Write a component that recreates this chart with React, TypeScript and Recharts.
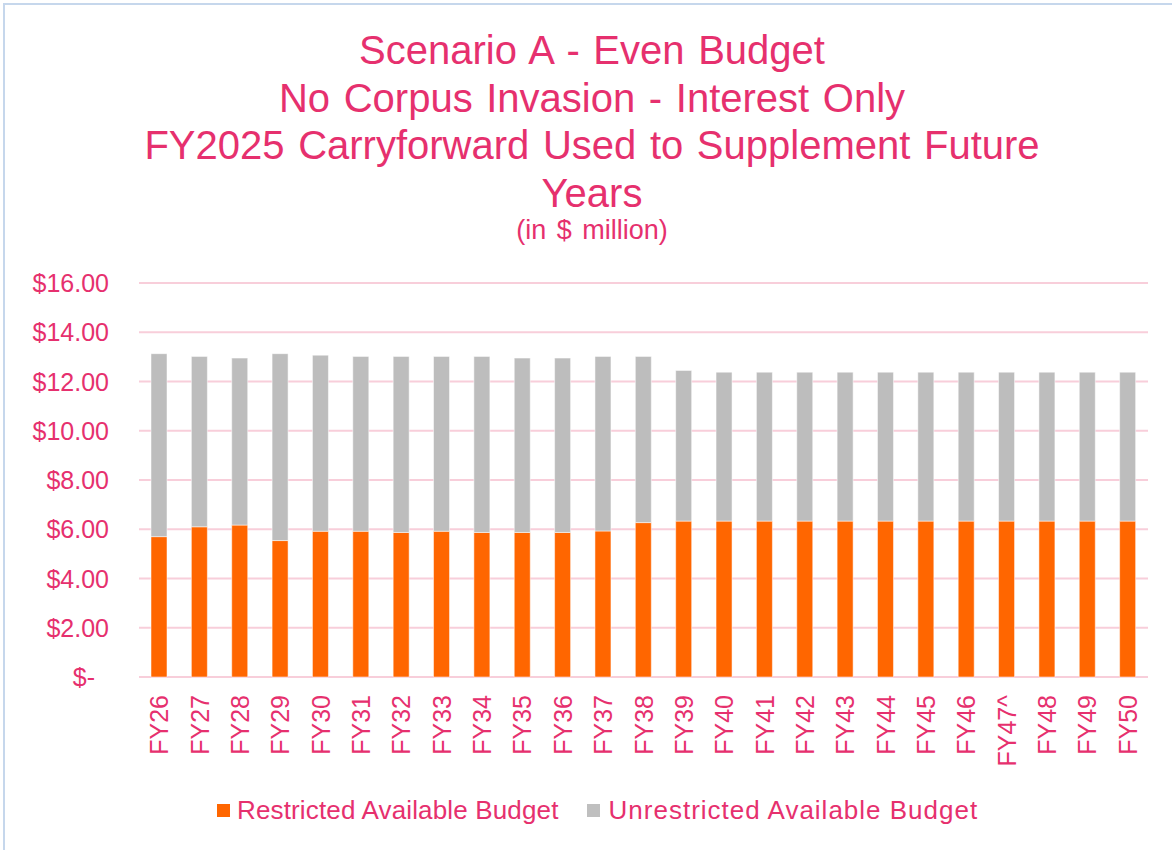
import { BarChart, Bar, XAxis, YAxis, CartesianGrid, Legend } from 'recharts';

const PINK = '#E6306E';
const FONT = '"Liberation Sans", Arial, sans-serif';

const YEARS = [
  'FY26', 'FY27', 'FY28', 'FY29', 'FY30', 'FY31', 'FY32', 'FY33', 'FY34', 'FY35',
  'FY36', 'FY37', 'FY38', 'FY39', 'FY40', 'FY41', 'FY42', 'FY43', 'FY44', 'FY45',
  'FY46', 'FY47^', 'FY48', 'FY49', 'FY50',
];

const RESTRICTED = [
  5.7, 6.1, 6.17, 5.54, 5.92, 5.92, 5.87, 5.92, 5.87, 5.87,
  5.87, 5.93, 6.27, 6.33, 6.33, 6.33, 6.33, 6.33, 6.33, 6.33,
  6.33, 6.33, 6.33, 6.33, 6.33,
];

const UNRESTRICTED = [
  7.43, 6.92, 6.78, 7.59, 7.15, 7.1, 7.15, 7.1, 7.15, 7.08,
  7.08, 7.09, 6.75, 6.12, 6.05, 6.05, 6.05, 6.05, 6.05, 6.05,
  6.05, 6.05, 6.05, 6.05, 6.05,
];

const Y_TICKS = [0, 2, 4, 6, 8, 10, 12, 14, 16];

const TITLE_LINES = [
  'Scenario A - Even Budget',
  'No Corpus Invasion - Interest Only',
  'FY2025 Carryforward Used to Supplement Future',
  'Years',
];
const SUBTITLE = '(in $ million)';

const data = YEARS.map((year, i) => ({
  year,
  restricted: RESTRICTED[i],
  unrestricted: UNRESTRICTED[i],
}));

const YTick = ({ x, y, payload }: any) => {
  const v = payload.value;
  const label = v === 0 ? '$-' : `$${v.toFixed(2)}`;
  return (
    <text x={x} y={y} dx={v === 0 ? -14 : 0} dy="0.36em" textAnchor="end" fill={PINK} fontSize={25} fontFamily={FONT}>
      {label}
    </text>
  );
};

const XTick = ({ x, y, payload }: any) => (
  <text
    x={x}
    y={y}
    dy="0.36em"
    textAnchor="end"
    transform={`rotate(-90, ${x}, ${y})`}
    fill={PINK}
    fontSize={25}
    fontFamily={FONT}
  >
    {payload.value}
  </text>
);

const LegendContent = () => (
  <div style={{ display: 'flex', alignItems: 'center', paddingLeft: 217, fontFamily: FONT, fontSize: 26, color: PINK }}>
    <span style={{ width: 13, height: 13, background: '#FF6600', marginRight: 7 }} />
    <span style={{ marginRight: 28, letterSpacing: 0.15 }}>Restricted Available Budget</span>
    <span style={{ width: 13, height: 13, background: '#BFBFBF', marginRight: 9 }} />
    <span style={{ letterSpacing: 1 }}>Unrestricted Available Budget</span>
  </div>
);

const App = () => {
  return (
    <div style={styles.page}>
      <div style={styles.frame} />
      {TITLE_LINES.map((line, i) => (
        <div key={i} style={{ ...styles.title, top: 27 + i * 47.5 }}>{line}</div>
      ))}
      <div style={styles.subtitle}>{SUBTITLE}</div>
      <div style={{ position: 'absolute', left: 0, top: 0 }}>
        <BarChart width={1172} height={850} data={data} margin={{ top: 283, right: 24, left: 0, bottom: 0 }}>
          <CartesianGrid horizontal vertical={false} stroke="#F8CEDA" strokeWidth={2} />
          <XAxis
            dataKey="year"
            height={173}
            interval={0}
            axisLine={false}
            tickLine={false}
            tickSize={0}
            tickMargin={18}
            tick={<XTick />}
          />
          <YAxis
            width={139}
            domain={[0, 16]}
            ticks={Y_TICKS}
            axisLine={false}
            tickLine={false}
            tickSize={0}
            tickMargin={30}
            tick={<YTick />}
          />
          <Legend
            verticalAlign="middle"
            align="center"
            layout="horizontal"
            wrapperStyle={{ position: 'absolute', top: 795, left: 0, width: 1172 }}
            content={<LegendContent />}
          />
          <Bar dataKey="restricted" stackId="a" fill="#FF6600" barSize={16} stroke="#FFFFFF" strokeOpacity={0.5} isAnimationActive={false} />
          <Bar dataKey="unrestricted" stackId="a" fill="#BDBDBD" barSize={16} stroke="#FFFFFF" strokeOpacity={0.5} isAnimationActive={false} />
        </BarChart>
      </div>
    </div>
  );
};

const styles: Record<string, any> = {
  page: { position: 'absolute', left: 0, top: 0, width: 1172, height: 850, background: '#fff', overflow: 'hidden' },
  frame: { position: 'absolute', left: 3, top: 3, width: 1200, height: 900, borderLeft: '2px solid #C6D7EC', borderTop: '2px solid #C6D7EC' },
  title: { position: 'absolute', left: 0, width: 1184, textAlign: 'center', fontFamily: FONT, fontSize: 40, lineHeight: '47.5px', wordSpacing: 2.5, color: PINK, whiteSpace: 'nowrap' },
  subtitle: { position: 'absolute', left: 0, top: 217, width: 1184, textAlign: 'center', fontFamily: FONT, fontSize: 27, lineHeight: '27px', wordSpacing: 3, color: PINK },
};

export default App;
